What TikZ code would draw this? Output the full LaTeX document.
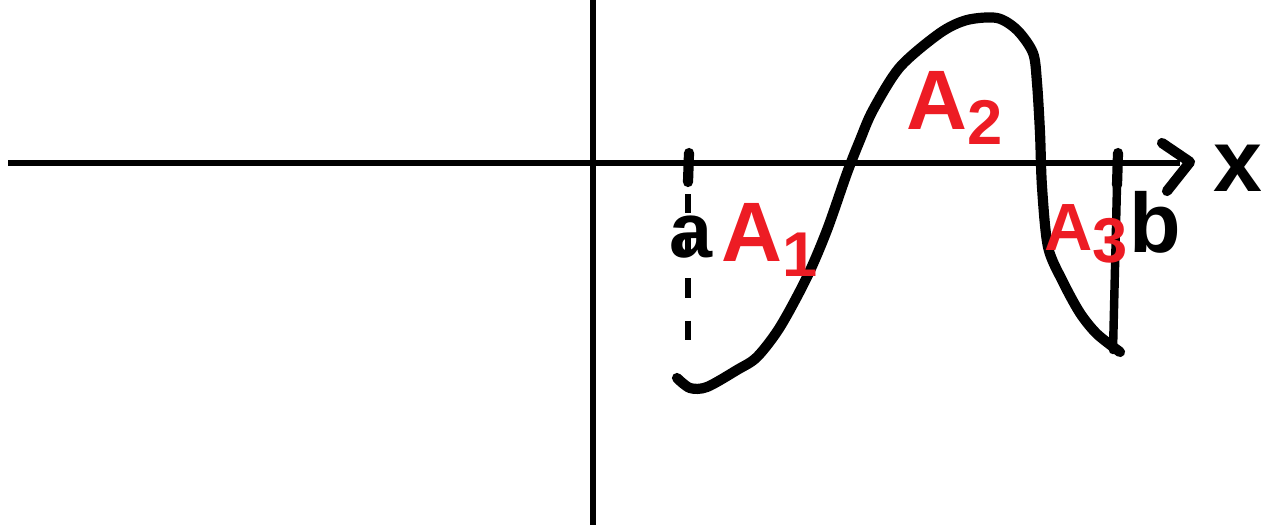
\documentclass[tikz,border=0pt]{standalone}
\usepackage{fontspec}
\setsansfont{Liberation Sans}
\definecolor{areared}{RGB}{237,28,36}
\newcommand{\lowsub}[1]{\raisebox{-0.35ex}{\fontsize{18}{18}\selectfont #1}}
\begin{document}
\begin{tikzpicture}[x=0.01cm,y=-0.01cm,font=\sffamily\bfseries\fontsize{24}{26}\selectfont,
  axisline/.style={line width=1.6pt},
  graphline/.style={line width=2.9pt,line cap=round,line join=round},
  arealabel/.style={text=areared,fontsize=24},
  fontsize/.style={font=\sffamily\bfseries\fontsize{#1}{#1}\selectfont}]
\useasboundingbox (0,0) rectangle (1261,530);
% axes
\coordinate (xl) at (8,163);
\coordinate (xr) at (1180,163);
\coordinate (yt) at (593,0);
\coordinate (yb) at (593,525);
\draw[axisline] (xl) -- (xr);
\draw[axisline] (yt) -- (yb);
\coordinate (tipa) at (1162,143);
\coordinate (tipm) at (1190,162);
\coordinate (tipb) at (1167,191);
\draw[graphline] (tipa) -- (tipm) -- (tipb);
\node[fontsize=25,inner sep=0pt] (xlab) at (1238,168) {x};
% bounds a and b
\coordinate (at) at (689,153);
\coordinate (am) at (688,182);
\coordinate (ab) at (688,342);
\draw[graphline] (at) -- (am);
\draw[line width=1.8pt,dash pattern=on 5.5pt off 6.5pt] ([yshift=-0.12cm]am) -- (ab);
\node[fontsize=22,inner sep=0pt] (alab) at (691,237) {a};
\coordinate (bt) at (1118,153);
\coordinate (bm) at (1117,185);
\coordinate (bb) at (1113,350);
\draw[graphline] (bt) -- (bm);
\draw[line width=2.4pt,line cap=round] (bm) -- (bb);
\node[fontsize=24,inner sep=0pt] (blab) at (1155,222) {b};
% the curve
\draw[graphline] plot[smooth,tension=0.5] coordinates {
  (677,378) (690,388) (707,387) (737,370) (757,357) (780,327)
  (807,277) (827,230) (847,173) (860,140) (873,110) (900,67)
  (940,33) (967,20) (997,18) (1017,30) (1033,53) (1037,83)
  (1040,133) (1042,187) (1048,247) (1063,282) (1080,313)
  (1097,334) (1120,352)};
% areas
\node[arealabel] (aone) at (770,240) {A\lowsub{1}};
\node[arealabel] (atwo) at (955,108) {A\lowsub{2}};
\node[arealabel,fontsize=19,inner sep=0pt] (athree) at (1086,234) {A\lowsub{3}};
\end{tikzpicture}
\end{document}
